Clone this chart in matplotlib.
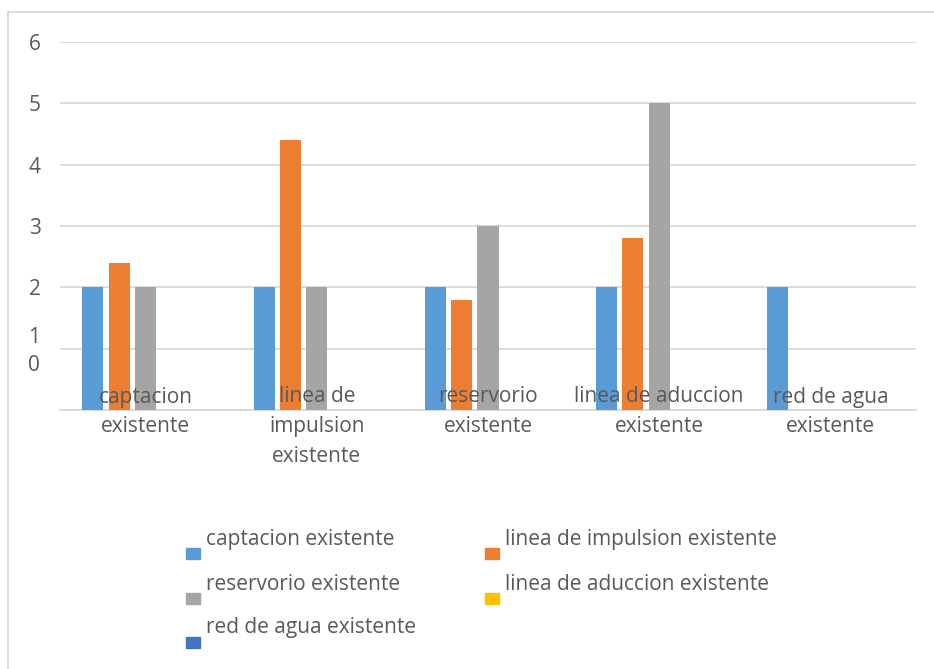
import matplotlib
matplotlib.use('Agg')
import matplotlib.pyplot as plt
from matplotlib.patches import Rectangle
from matplotlib.lines import Line2D
import numpy as np

plt.rcParams['font.family'] = ['Open Sans', 'DejaVu Sans']

categories = ['captacion\nexistente', 'linea de\nimpulsion\nexistente',
              'reservorio\nexistente', 'linea de aduccion\nexistente',
              'red de agua\nexistente']
series_names = ['captacion existente', 'linea de impulsion existente',
                'reservorio existente', 'linea de aduccion existente',
                'red de agua existente']
captacion = [2, 2, 2, 2, 2]
impulsion = [2.4, 4.4, 1.8, 2.8, 0]
reservorio = [2, 2, 3, 5, 0]
aduccion = [0, 0, 0, 0, 0]
red_agua = [0, 0, 0, 0, 0]
series = [captacion, impulsion, reservorio, aduccion, red_agua]
colors = ['#5b9bd5', '#ed7d31', '#a5a5a5', '#ffc000', '#4472c4']

txt = '#595959'
grid_c = '#d9d9d9'
fs = 15

fig = plt.figure(figsize=(9.34, 6.69), dpi=100)
ax = fig.add_axes([60/934, 1-410/669, 856/934, 368/669])

x = np.arange(len(categories))
step = 0.1537
width = 0.1227
for j, vals in enumerate(series):
    v = np.array(vals, dtype=float)
    ax.bar(x + (j - 2) * step, v, width, color=colors[j], zorder=3)

ax.set_xlim(-0.5, 4.5)
ax.set_ylim(0, 6)
ax.set_yticks(range(7))
ax.yaxis.grid(True, color=grid_c, linewidth=1.3, zorder=0)
ax.set_yticklabels(['', '', '2', '3', '4', '5', '6'])
ax.tick_params(axis='y', length=0, pad=14, labelsize=fs, labelcolor=txt)
ax.set_xticks([])
for s in ['top', 'left', 'right']:
    ax.spines[s].set_visible(False)
ax.spines['bottom'].set_color(grid_c)
ax.spines['bottom'].set_linewidth(1.3)

# the lowest two labels sit off their gridlines
ylab = ax.get_yaxis_transform()
ax.text(-0.0234, 1.19, '1', transform=ylab, ha='right', va='center',
        fontsize=fs, color=txt)
ax.text(-0.0234, 0.72, '0', transform=ylab, ha='right', va='center',
        fontsize=fs, color=txt)

# category names drawn across the base of the bars, one line at a time
for i, c in enumerate(categories):
    for k, line in enumerate(c.split('\n')):
        ax.annotate(line, xy=(x[i], 0), xytext=(0, (13 - 29.5 * k) * 0.72),
                    textcoords='offset points', ha='center', va='center',
                    fontsize=fs, color=txt, zorder=4)

# legend, two columns under the plot
leg_pos = [(186, 548), (485, 548), (186, 593), (485, 593), (186, 637)]
for j, name in enumerate(series_names):
    px, py = leg_pos[j]
    fig.add_artist(Rectangle((px/934, 1-(py+11)/669), 14/934, 11/669,
                             transform=fig.transFigure, color=colors[j]))
    fig.text((px+20)/934, 1-(py-9)/669, name, ha='left', va='center',
             fontsize=fs, color=txt)

# outer frame, left and top edges
fig.add_artist(Line2D([8/934, 8/934], [0, 1-12/669], transform=fig.transFigure,
                      color=grid_c, linewidth=1.3))
fig.add_artist(Line2D([8/934, 1], [1-12/669, 1-12/669], transform=fig.transFigure,
                      color=grid_c, linewidth=1.3))

fig.savefig('out.png', dpi=100)
